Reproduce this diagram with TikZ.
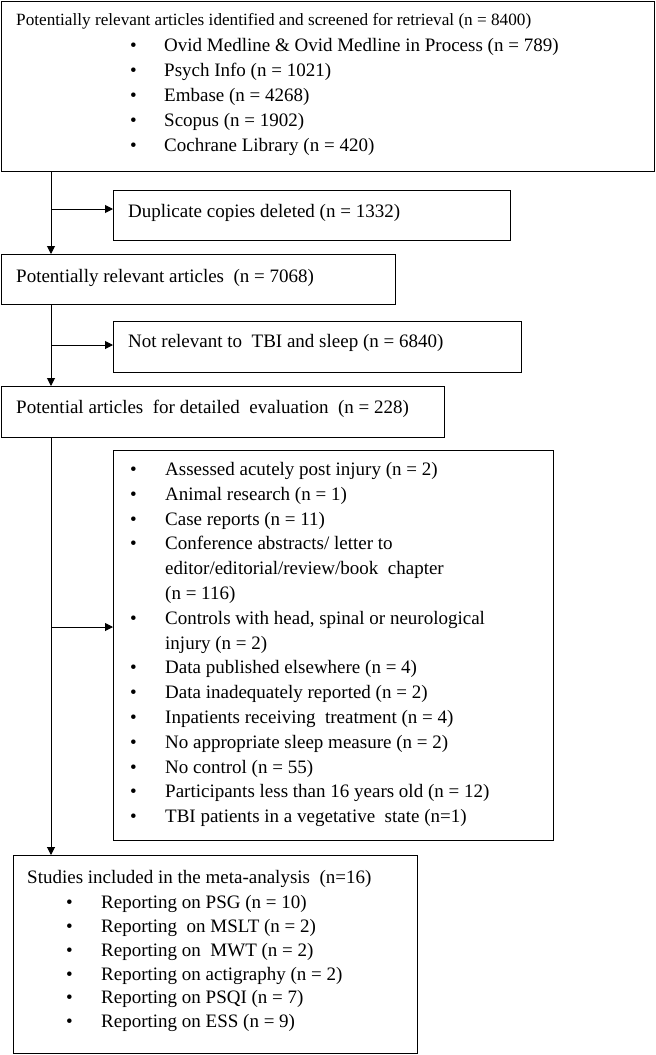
\documentclass[tikz,border=0pt]{standalone}
\usepackage{fontspec}
\setmainfont{Liberation Serif}
\usetikzlibrary{arrows.meta}
\begin{document}
\begin{tikzpicture}[x=1pt,y=-1pt,
  box/.style={draw,line width=1pt,anchor=north west,inner sep=0pt},
  txt/.style={anchor=base west,inner sep=0pt,font=\fontsize{19}{21}\selectfont},
  arr/.style={line width=1pt,-{Triangle[length=8pt,width=8pt]}}]
\useasboundingbox (0,0) rectangle (656,1055);
\node[box,minimum width=653,minimum height=170] (b1) at (1,1) {};
\node[box,minimum width=397,minimum height=50] (b2) at (113,190) {};
\node[box,minimum width=394,minimum height=50] (b3) at (1,254) {};
\node[box,minimum width=408,minimum height=51] (b4) at (113,321) {};
\node[box,minimum width=443,minimum height=51] (b5) at (1,386) {};
\node[box,minimum width=440,minimum height=390] (b6) at (113,450) {};
\node[box,minimum width=404,minimum height=198] (b7) at (13,855) {};
% box1 text
\node[txt,font=\fontsize{17.2}{20}\selectfont] (t1) at (16,25) {Potentially relevant articles identified and screened for retrieval (n = 8400)};
\foreach \y/\s [count=\i] in {51/{Ovid Medline \& Ovid Medline in Process (n = 789)},76/{Psych Info (n = 1021)},101/{Embase (n = 4268)},126/{Scopus (n = 1902)},151/{Cochrane Library (n = 420)}}{
  \node[txt] (a\i) at (130,\y) {•};
  \node[txt] (at\i) at (164,\y) {\s};}
\node[txt] (t2) at (128,217) {Duplicate copies deleted (n = 1332)};
\node[txt] (t3) at (16,282) {Potentially relevant articles\ \ (n = 7068)};
\node[txt] (t4) at (128,347) {Not relevant to\ \ TBI and sleep (n = 6840)};
\node[txt] (t5) at (16,413) {Potential articles\ \ for detailed\ \ evaluation\ \ (n = 228)};
\foreach \y/\b/\s [count=\i] in {
 475/1/{Assessed acutely post injury (n = 2)},
 500/1/{Animal research (n = 1)},
 525/1/{Case reports (n = 11)},
 549/1/{Conference abstracts/\ letter\ to},
 574/0/{editor/editorial/review/book\ \ chapter},
 599/0/{(n = 116)},
 624/1/{Controls with head, spinal or neurological},
 649/0/{injury (n = 2)},
 673/1/{Data published elsewhere (n = 4)},
 698/1/{Data inadequately reported (n = 2)},
 723/1/{Inpatients receiving\ \ treatment (n = 4)},
 748/1/{No appropriate sleep measure (n = 2)},
 773/1/{No control (n = 55)},
 797/1/{Participants less than 16 years old (n = 12)},
 822/1/{TBI patients in a vegetative\ \ state (n=1)}}{
  \ifnum\b=1 \node[txt] (c\i) at (130,\y) {•};\fi
  \node[txt] (ct\i) at (165,\y) {\s};}
\node[txt] (t7) at (27,883) {Studies included in the meta-analysis\ \ (n=16)};
\foreach \y/\s [count=\i] in {908/{Reporting on PSG (n = 10)},932/{Reporting\ \ on MSLT (n = 2)},956/{Reporting on\ \ MWT (n = 2)},980/{Reporting on actigraphy (n = 2)},1003/{Reporting on PSQI (n = 7)},1027/{Reporting on ESS (n = 9)}}{
  \node[txt] (d\i) at (66,\y) {•};
  \node[txt] (dt\i) at (101,\y) {\s};}
% connectors
\coordinate (p1) at (51,171);
\coordinate (q1) at (51,209);
\coordinate (p3) at (51,304);
\coordinate (q3) at (51,345);
\coordinate (p5) at (51,437);
\coordinate (q5) at (51,627);
\draw[arr] (p1) -- (p1 |- b3.north);
\draw[arr] (q1) -- (q1 -| b2.west);
\draw[arr] (p3) -- (p3 |- b5.north);
\draw[arr] (q3) -- (q3 -| b4.west);
\draw[arr] (p5) -- (p5 |- b7.north);
\draw[arr] (q5) -- (q5 -| b6.west);
\end{tikzpicture}
\end{document}
